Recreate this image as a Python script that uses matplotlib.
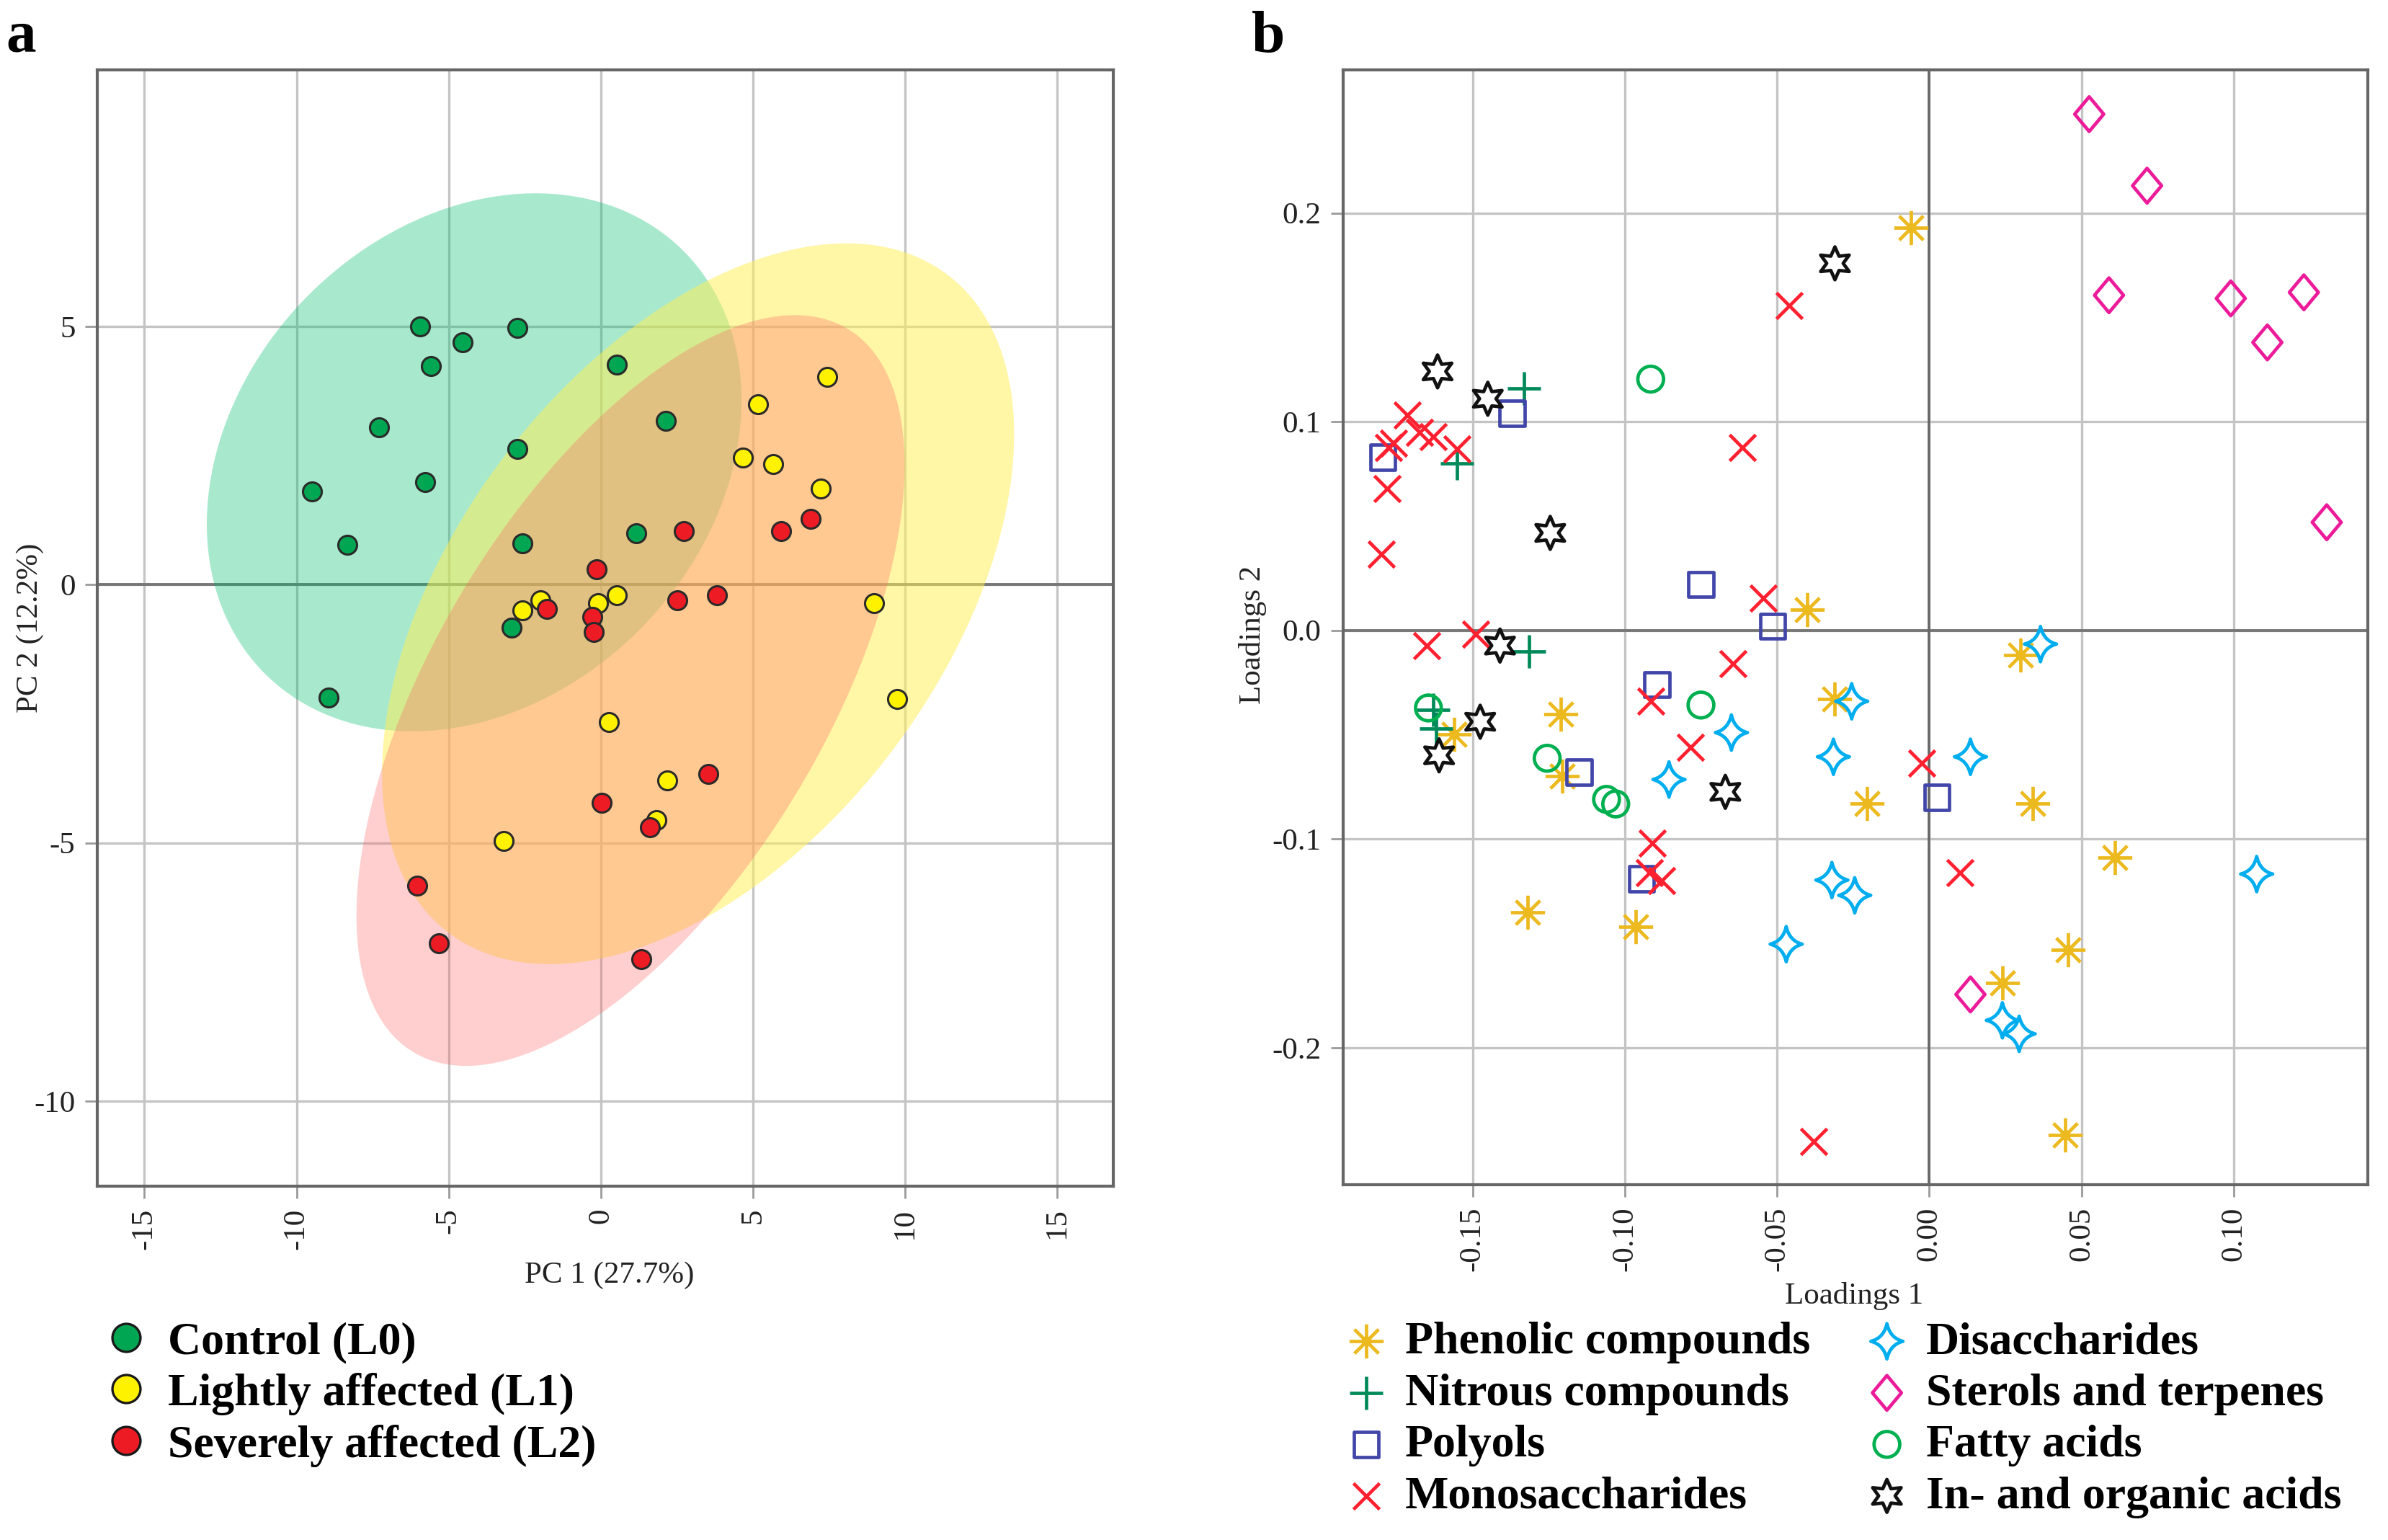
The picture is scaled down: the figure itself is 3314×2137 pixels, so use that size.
import numpy as np
import matplotlib.pyplot as plt
from matplotlib.path import Path
from matplotlib.transforms import Affine2D
from matplotlib.lines import Line2D

plt.rcParams['font.family'] = ['Liberation Serif', 'DejaVu Serif']

# panel a: scores
control_x = [-5.93, -4.53, -2.73, -5.58, 0.53, -7.29, -2.73, 2.13, -9.49, -5.78, -8.34, -2.58, 1.18, -2.93, -8.94]
control_y = [5.0, 4.7, 4.97, 4.23, 4.26, 3.05, 2.63, 3.17, 1.8, 1.98, 0.77, 0.8, 1.0, -0.83, -2.19]
light_x = [7.44, 5.18, 4.68, 5.68, 7.24, 8.99, 9.74, 0.53, -0.08, -1.98, -2.58, 0.28, 2.18, 1.83, -3.18]
light_y = [4.02, 3.49, 2.46, 2.34, 1.86, -0.36, -2.22, -0.2, -0.36, -0.3, -0.5, -2.66, -3.79, -4.56, -4.97]
severe_x = [2.73, 5.93, 6.89, -0.13, 2.53, 3.83, -1.78, -0.28, -0.23, 3.53, 0.03, 1.63, -6.03, -5.33, 1.33]
severe_y = [1.04, 1.04, 1.27, 0.3, -0.3, -0.2, -0.47, -0.62, -0.92, -3.67, -4.23, -4.7, -5.83, -6.95, -7.25]

# confidence regions: centre x, centre y, sd x, sd y, correlation
control_region = [-4.16, 2.37, 8.79, 5.21, 0.23]
light_region = [3.2, -0.37, 10.39, 6.98, 0.47]
severe_region = [0.98, -2.05, 9.01, 7.27, 0.6]

# panel b: loadings
phenolic_x = [-0.006, -0.04, 0.03, -0.031, -0.121, -0.156, -0.1205, -0.0205, 0.034, 0.061, -0.132, -0.0965, 0.0455, 0.024, 0.0445]
phenolic_y = [0.193, 0.01, -0.012, -0.033, -0.04, -0.05, -0.07, -0.083, -0.083, -0.109, -0.135, -0.142, -0.153, -0.169, -0.242]
nitrous_x = [-0.133, -0.155, -0.1315, -0.163, -0.162]
nitrous_y = [0.116, 0.08, -0.01, -0.038, -0.047]
polyol_x = [-0.1795, -0.137, -0.075, -0.0515, -0.0895, -0.115, 0.0025, -0.0945]
polyol_y = [0.083, 0.104, 0.022, 0.002, -0.026, -0.068, -0.08, -0.119]
mono_x = [-0.046, -0.0615, -0.1715, -0.1675, -0.163, -0.155, -0.176, -0.1775, -0.178, -0.18, -0.165, -0.149, -0.0545, -0.0645, -0.0915, -0.0785, -0.0025, -0.091, -0.092, -0.088, 0.01, -0.038]
mono_y = [0.1555, 0.0876, 0.103, 0.095, 0.0927, 0.0869, 0.0898, 0.0876, 0.068, 0.0365, -0.0073, -0.002, 0.0153, -0.016, -0.034, -0.056, -0.0635, -0.102, -0.116, -0.12, -0.116, -0.245]
di_x = [0.0365, -0.0255, -0.065, -0.0315, 0.0135, -0.0855, -0.032, -0.0245, -0.047, 0.1075, 0.024, 0.0295]
di_y = [-0.0066, -0.034, -0.049, -0.0606, -0.0606, -0.0715, -0.1197, -0.127, -0.1504, -0.1168, -0.1869, -0.1934]
sterol_x = [0.0525, 0.0715, 0.059, 0.099, 0.123, 0.111, 0.1305, 0.0135]
sterol_y = [0.2474, 0.2131, 0.1606, 0.1591, 0.162, 0.138, 0.0518, -0.1745]
fatty_x = [-0.0915, -0.075, -0.1645, -0.1255, -0.106, -0.103]
fatty_y = [0.1204, -0.0358, -0.0372, -0.0613, -0.081, -0.0832]
acid_x = [-0.031, -0.1615, -0.145, -0.1245, -0.141, -0.1475, -0.161, -0.067]
acid_y = [0.1759, 0.1241, 0.111, 0.0467, -0.0073, -0.0438, -0.0599, -0.0774]

W, H = 3314, 2137
fig = plt.figure(figsize=(W / 200, H / 200), dpi=200)


def box(left, right, top, bottom):
    return [left / W, 1 - bottom / H, (right - left) / W, (bottom - top) / H]


def style_axes(ax, xticks, xlabels, yticks, ylabels):
    ax.set_xticks(xticks)
    ax.set_xticklabels(xlabels, rotation=90, fontsize=15.5)
    ax.set_yticks(yticks)
    ax.set_yticklabels(ylabels, fontsize=15.5)
    ax.grid(True, color='#c4c4c4', linewidth=1.2)
    ax.set_axisbelow(True)
    ax.axhline(0, color='#777777', linewidth=1.4, zorder=1)
    ax.tick_params(axis='both', length=6, width=1.0, color='#9a9a9a', labelcolor='#222222', pad=5)
    for s in ax.spines.values():
        s.set_color('#666666')
        s.set_linewidth(1.5)


# ---- panel a ----
ax1 = fig.add_axes(box(135, 1545, 97, 1646))
t = np.linspace(0, 2 * np.pi, 300)
regions = [(control_region, '#00C070', 0.34), (light_region, '#FFEE57', 0.53), (severe_region, '#FF6262', 0.3)]
for reg, col, alpha in regions:
    cx, cy, sx, sy, rho = reg
    ax1.fill(cx + sx * np.cos(t), cy + sy * np.cos(t - np.arccos(rho)), color=col, alpha=alpha, lw=0, zorder=2)

for xs, ys, col in [(control_x, control_y, '#00a651'), (light_x, light_y, '#fff200'), (severe_x, severe_y, '#ed1c24')]:
    ax1.scatter(xs, ys, s=88, c=col, edgecolors='#2a2a2a', linewidths=1.1, zorder=3)

ax1.set_xlim(-16.55, 16.85)
ax1.set_ylim(-11.65, 9.97)
style_axes(ax1, [-15, -10, -5, 0, 5, 10, 15], ['-15', '-10', '-5', '0', '5', '10', '15'],
           [-10, -5, 0, 5], ['-10', '-5', '0', '5'])
ax1.set_xlabel('PC 1 (27.7%)', fontsize=15.5, color='#222222', va='center')
ax1.xaxis.set_label_coords(0.504, -0.08)
ax1.set_ylabel('PC 2 (12.2%)', fontsize=15.5, color='#222222', va='center')
ax1.yaxis.set_label_coords(-0.066, 0.5)

legend_a = [Line2D([], [], ls='none', marker='o', ms=14, mfc=c, mec='#1a1a1a', mew=1.2)
            for c in ['#00a651', '#fff200', '#ed1c24']]
fig.legend(legend_a, ['Control (L0)', 'Lightly affected (L1)', 'Severely affected (L2)'],
           loc='upper left', bbox_to_anchor=(0.0239, 0.169), frameon=False,
           prop={'weight': 'bold', 'size': 23}, labelspacing=0.2, handletextpad=0.3, handlelength=1.2)

# ---- panel b ----
ax2 = fig.add_axes(box(1864, 3286, 97, 1644))

# asterisk with a filled centre
ang = np.arange(8) * np.pi / 4
spokes = []
codes = []
for a in ang:
    spokes += [(0, 0), (np.sin(a), np.cos(a))]
    codes += [Path.MOVETO, Path.LINETO]
spoke_path = Path(spokes, codes)
dot = Path.unit_circle().transformed(Affine2D().scale(0.2))
asterisk = Path.make_compound_path(spoke_path, dot)

# concave four-point star
k = 0.2
four_star = Path([(0, 1.1), (k, k), (1.0, 0), (k, -k), (0, -1.1), (-k, -k), (-1.0, 0), (-k, k), (0, 1.1), (0, 1.1)],
                 [Path.MOVETO, Path.CURVE3, Path.CURVE3, Path.CURVE3, Path.CURVE3, Path.CURVE3, Path.CURVE3, Path.CURVE3, Path.CURVE3, Path.CLOSEPOLY])
thin_diamond = Path([(0, 1.1), (0.92, 0), (0, -1.1), (-0.92, 0), (0, 1.1)],
                    [Path.MOVETO, Path.LINETO, Path.LINETO, Path.LINETO, Path.CLOSEPOLY])
lw = 1.7
series = [
    (phenolic_x, phenolic_y, asterisk, '#ecb91e', 290, 'Phenolic compounds'),
    (nitrous_x, nitrous_y, '+', '#008a5a', 270, 'Nitrous compounds'),
    (polyol_x, polyol_y, 's', '#4146a8', 155, 'Polyols'),
    (mono_x, mono_y, 'x', '#ff2030', 170, 'Monosaccharides'),
    (di_x, di_y, four_star, '#00aeef', 310, 'Disaccharides'),
    (sterol_x, sterol_y, thin_diamond, '#ec1b9a', 300, 'Sterols and terpenes'),
    (fatty_x, fatty_y, 'o', '#00b050', 165, 'Fatty acids'),
    (acid_x, acid_y, (6, 1, 0), '#111111', 270, 'In- and organic acids'),
]
handles = []
for xs, ys, mk, col, size, name in series:
    filled = mk is asterisk
    if mk in ('+', 'x'):
        h = ax2.scatter(xs, ys, s=size, marker=mk, c=col, linewidths=lw, zorder=3)
    else:
        h = ax2.scatter(xs, ys, s=size, marker=mk, facecolors=col if filled else 'none', edgecolors=col, linewidths=lw, zorder=3)
    handles.append(h)

ax2.set_xlim(-0.1925, 0.144)
ax2.set_ylim(-0.2657, 0.2686)
style_axes(ax2, [-0.15, -0.10, -0.05, 0.00, 0.05, 0.10], ['-0.15', '-0.10', '-0.05', '0.00', '0.05', '0.10'],
           [-0.2, -0.1, 0.0, 0.1, 0.2], ['-0.2', '-0.1', '0.0', '0.1', '0.2'])
ax2.axvline(0, color='#666666', linewidth=1.3, zorder=1)
ax2.set_xlabel('Loadings 1', fontsize=15.5, color='#222222', va='center')
ax2.xaxis.set_label_coords(0.499, -0.1)
ax2.set_ylabel('Loadings 2', fontsize=15.5, color='#222222', va='center')
ax2.yaxis.set_label_coords(-0.088, 0.493)

fig.legend(handles, [s[5] for s in series], ncol=2, loc='upper left', bbox_to_anchor=(0.5432, 0.169), frameon=False,
           prop={'weight': 'bold', 'size': 23}, labelspacing=0.2, handletextpad=0.25, handlelength=1.2, columnspacing=1.06)

fig.text(4 / 1568, 1 - 34 / 1011, 'a', fontsize=30, fontweight='bold')
fig.text(822 / 1568, 1 - 34 / 1011, 'b', fontsize=30, fontweight='bold')

fig.savefig('out.png', dpi=200)
